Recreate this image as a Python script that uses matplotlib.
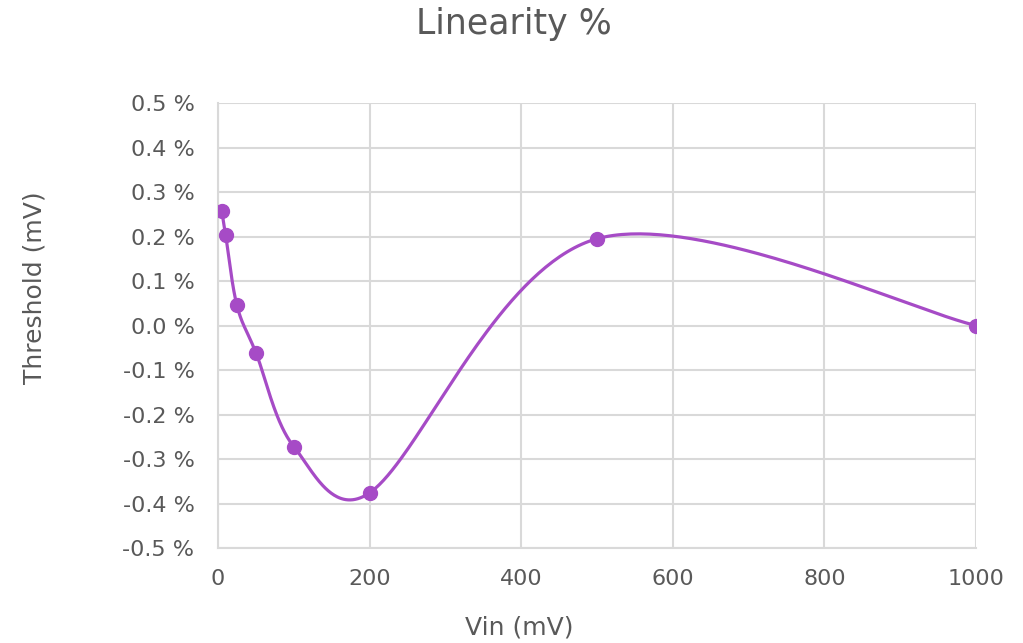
import numpy as np
import matplotlib.pyplot as plt
from matplotlib.ticker import FuncFormatter

# Data (Vin in mV, linearity in %)
vin = [5, 10, 25, 50, 100, 200, 500, 1000]
linearity = [0.257, 0.204, 0.045, -0.061, -0.272, -0.376, 0.195, 0.0]

title = 'Linearity %'
xlabel = 'Vin (mV)'
ylabel = 'Threshold (mV)'
color = '#A64BC6'
grey = '#595959'
grid_c = '#D9D9D9'

plt.rcParams['font.family'] = ['DejaVu Sans']

fig = plt.figure(figsize=(10.23, 6.43), dpi=100)
ax = fig.add_axes([0.2131, 0.1477, 0.9541 - 0.2131, 0.8398 - 0.1477])
ax.set_xlim(0, 1000)
ax.set_ylim(-0.5, 0.5)


def excel_smooth(xs, ys, n=80):
    # Bezier smoothing like Excel's "smoothed line", done in pixel space;
    # control arm is chord/6 but never longer than half the segment
    pts = ax.transData.transform(np.column_stack([xs, ys]))
    out = []
    m = len(pts)
    for i in range(m - 1):
        p0 = pts[max(i - 1, 0)]
        p1 = pts[i]
        p2 = pts[i + 1]
        p3 = pts[min(i + 2, m - 1)]
        d12 = np.hypot(*(p2 - p1))
        d02 = np.hypot(*(p2 - p0))
        d13 = np.hypot(*(p3 - p1))
        f1 = min(1 / 6, 0.5 * d12 / d02) if d02 > 0 else 0
        f2 = min(1 / 6, 0.5 * d12 / d13) if d13 > 0 else 0
        c1 = p1 + (p2 - p0) * f1
        c2 = p2 - (p3 - p1) * f2
        t = np.linspace(0, 1, n)[:, None]
        seg = ((1 - t) ** 3 * p1 + 3 * (1 - t) ** 2 * t * c1
               + 3 * (1 - t) * t ** 2 * c2 + t ** 3 * p2)
        out.append(seg if i == 0 else seg[1:])
    out = np.vstack(out)
    return ax.transData.inverted().transform(out)


curve = excel_smooth(vin, linearity)
ax.plot(curve[:, 0], curve[:, 1], color=color, lw=2.3, zorder=3,
        solid_capstyle='round')
ax.plot(vin, linearity, 'o', color=color, ms=10, zorder=4)


def pct(v, p):
    if abs(v) < 1e-9:
        v = 0.0
    return f'{v:.1f} %'


ax.set_xticks(np.arange(0, 1001, 200))
ax.set_yticks(np.round(np.arange(-0.5, 0.51, 0.1), 1))
ax.yaxis.set_major_formatter(FuncFormatter(pct))
ax.grid(True, color=grid_c, lw=1.5)
ax.set_axisbelow(True)
for s in ['top', 'right']:
    ax.spines[s].set_visible(False)
for s in ['left', 'bottom']:
    ax.spines[s].set_color(grid_c)
    ax.spines[s].set_linewidth(1.5)
ax.tick_params(length=0, labelsize=16, colors=grey)
ax.tick_params(axis='x', pad=15)
ax.tick_params(axis='y', pad=17)

fig.text(0.502, 0.962, title, ha='center', va='center', fontsize=25, color=grey)
fig.text(0.508, 0.024, xlabel, ha='center', va='center', fontsize=18, color=grey)
fig.text(0.034, 0.553, ylabel, ha='center', va='center', rotation=90,
         fontsize=18, color=grey)

fig.savefig('out.png', dpi=100)
